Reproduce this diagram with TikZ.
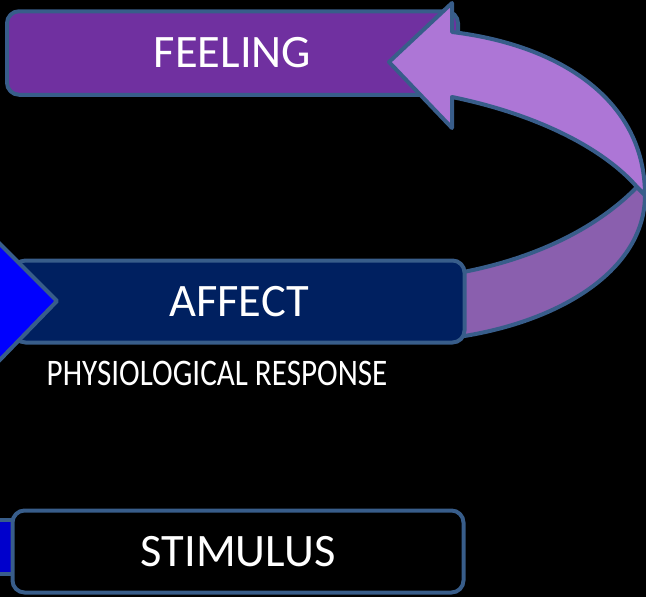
\documentclass[tikz,border=0pt]{standalone}
\usepackage{fontspec}
\setmainfont{Carlito}
\usepackage{xcolor}
\usepackage{tikz}
\usetikzlibrary{positioning, shapes.geometric}
\definecolor{edgeblue}{RGB}{56, 93, 138}
\definecolor{feelpurple}{RGB}{112, 48, 160}
\definecolor{affectnavy}{RGB}{0, 32, 96}
\definecolor{ribbonlight}{RGB}{173, 118, 214}
\definecolor{ribbondark}{RGB}{138, 95, 174}
\definecolor{tipblue}{RGB}{0, 0, 255}
\definecolor{stripblue}{RGB}{0, 0, 204}

\begin{document}
\begin{tikzpicture}[x=1pt, y=-1pt, line join=round,
    box/.style={rectangle, draw=edgeblue, line width=4pt, rounded corners=12pt, text=white, font=\fontsize{46.5}{50}\selectfont, minimum width=451pt, minimum height=82pt, inner sep=0pt},
    ribbon/.style={draw=edgeblue, line width=4pt},
    note/.style={text=white, font=\fontsize{37.5}{40}\selectfont, inner sep=0pt}]

    % Background
    \fill[black] (0,0) rectangle (646,597);
    \useasboundingbox (0,0) rectangle (646,597);

    % Top box
    \node[box, fill=feelpurple, minimum height=83.5pt] (feeling) at (232.5,53) {FEELING};

    % Back of the ribbon
    \draw[ribbon, fill=ribbondark] (458,273) .. controls (540,258) and (600,225) .. (637,187)
        -- (645,195) .. controls (645,270) and (560,322) .. (458,337) -- cycle;

    % Middle box and its arrow tip
    \node[box, fill=affectnavy] (affect) at (239,301.5) {AFFECT};
    \draw[ribbon, fill=tipblue] (-6,238) -- (57,301) -- (-6,366) -- cycle;
    \node[note, below=41pt of affect.south west, xshift=35pt, anchor=base west] (response) {\scalebox{0.83}[1]{PHYSIOLOGICAL RESPONSE}};

    % Front of the ribbon with its head
    \draw[ribbon, fill=ribbonlight] (452,32) .. controls (560,45) and (645,100) .. (645,195)
        -- (637,187) .. controls (605,150) and (540,115) .. (452,97)
        -- (452,128) -- (389,62) -- (452,3) -- cycle;

    % Bottom box
    \draw[ribbon, fill=stripblue] (-6,520) rectangle (14,574);
    \node[box, fill=black] (stimulus) at (238,551.5) {STIMULUS};
\end{tikzpicture}
\end{document}
